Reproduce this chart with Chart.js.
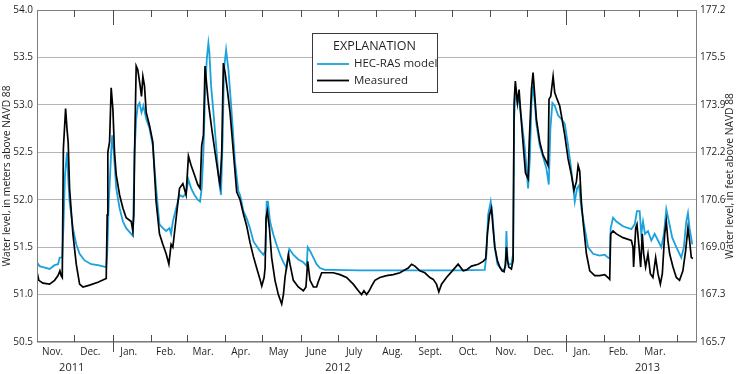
<!DOCTYPE html>
<html>
<head>
    <title>Water level, HEC-RAS model and measured</title>
    <script src="https://cdn.jsdelivr.net/npm/chart.js"></script>
    <style>
        body {
            margin: 0;
            background-color: #fff;
        }
        #levelChart {
            display: block;
        }
    </style>
</head>
<body>
    <canvas id="levelChart" width="737" height="374"></canvas>

    <script>
        // x values are days counted from Nov. 1, 2011
        var hecDays = [0, 2, 4.8, 10.2, 14.2, 17, 18.3, 20.4, 21.3, 22.6, 24.2, 25.2, 26.3, 29, 31.7, 34.4, 38.4, 43.8, 49.2, 55.9,
            56.7, 58, 59.9, 60.7, 62, 64, 66.7, 69.4, 72, 76.1, 77.4, 78.8, 80.1, 81.4, 82.8, 84.4, 86, 88.2, 90.9, 93.5,
            96.2, 98.9, 101.6, 104.3, 107, 108.3, 109.7, 112.4, 115.1, 117.8, 120.4, 122.3, 124.5, 127.2, 129.8, 131.7, 133, 134.4, 135.7, 137.1,
            138.4, 139.2, 140.6, 142.5, 145.1, 147, 148.6, 150, 151, 152.7, 154.6, 157.2, 159.9, 162.6, 164, 166.7, 169.4, 172, 174.8, 177.4,
            180.1, 182.8, 184.5, 185.5, 186.5, 188.2, 190.9, 193.6, 196.3, 199, 201.6, 203.8, 207, 211, 215.1, 217.8, 218.6, 220.5, 223.2, 225.8,
            228.5, 232.6, 240, 260, 280, 300, 320, 340, 361.6, 363, 364.3, 366.4, 367.8, 369.7, 371.8, 373.7, 376.4, 378.3, 379.1, 380,
            381, 383.1, 384.5, 385.3, 386.3, 388, 389.3, 391.2, 393.9, 396.6, 398, 399.3, 400.6, 402, 403.3, 406, 408.7, 411.4, 413.3, 414.6,
            416.2, 418.1, 420.8, 423.5, 426.2, 428.9, 431.6, 434.3, 436.1, 437.7, 439.6, 442.3, 445, 449, 454.4, 458.5, 461.1, 462.5, 463.3, 465.2,
            467.9, 473.2, 480, 482.7, 484.5, 486.7, 488, 489.4, 491, 493.4, 496.1, 498.8, 501.5, 504.2, 506.3, 508.2, 510.3, 513, 516.3, 520.3,
            522.4, 524.3, 525.7, 527, 529.2];
        var hecLevels = [51.34, 51.30, 51.29, 51.27, 51.31, 51.32, 51.39, 51.39, 51.70, 52.26, 52.50, 52.23, 51.98, 51.70, 51.53, 51.43, 51.36, 51.32, 51.31, 51.29,
            51.43, 51.98, 52.50, 52.68, 52.50, 52.12, 51.91, 51.77, 51.70, 51.64, 51.62, 52.50, 52.85, 52.99, 53.02, 52.92, 52.99, 52.85, 52.75, 52.57,
            52.12, 51.74, 51.70, 51.67, 51.70, 51.64, 51.77, 51.91, 52.05, 52.03, 52.07, 52.21, 52.12, 52.05, 52.00, 51.98, 52.12, 52.50, 53.09, 53.48,
            53.65, 53.55, 53.20, 52.92, 52.50, 52.19, 52.05, 52.68, 53.37, 53.58, 53.37, 52.92, 52.40, 52.09, 52.05, 51.88, 51.80, 51.70, 51.56, 51.51,
            51.46, 51.42, 51.46, 51.98, 51.98, 51.77, 51.63, 51.52, 51.42, 51.34, 51.28, 51.48, 51.42, 51.37, 51.34, 51.30, 51.50, 51.46, 51.39, 51.32,
            51.28, 51.26, 51.26, 51.255, 51.255, 51.255, 51.255, 51.255, 51.26, 51.43, 51.84, 51.98, 51.84, 51.50, 51.32, 51.29, 51.25, 51.29, 51.67, 51.36,
            51.32, 51.32, 51.43, 52.85, 53.13, 53.02, 53.06, 52.85, 52.55, 52.12, 52.43, 53.02, 53.20, 53.02, 52.80, 52.57, 52.45, 52.33, 52.16, 52.75,
            53.02, 52.99, 52.89, 52.85, 52.80, 52.57, 52.30, 51.98, 52.12, 52.15, 51.91, 51.70, 51.50, 51.43, 51.41, 51.42, 51.39, 51.38, 51.70, 51.81,
            51.77, 51.72, 51.69, 51.74, 51.88, 51.88, 51.64, 51.77, 51.64, 51.67, 51.57, 51.64, 51.57, 51.50, 51.64, 51.90, 51.77, 51.60, 51.50, 51.39,
            51.50, 51.77, 51.86, 51.70, 51.53];

        var measDays = [0, 1.5, 4.8, 10.2, 14.2, 17, 18.5, 19.5, 20.4, 21.3, 23.1, 24.2, 25.2, 26.3, 29, 31.7, 34.4, 37.1, 42.5, 49.2,
            55.9, 56.7, 57.2, 58.6, 59.9, 61.3, 62.6, 64, 66.7, 69.4, 72, 76.1, 77.4, 78.2, 78.8, 80.1, 81.4, 83.3, 84.4, 85.5,
            86.8, 88.2, 90.9, 93.5, 96.2, 98.9, 101.6, 104.3, 106.5, 108.3, 109.7, 112.4, 115.1, 117.8, 120.4, 122.3, 124.5, 127.2, 129.8, 131.7,
            133, 134.4, 135.7, 137.1, 138.4, 141.1, 143.8, 146.5, 147.8, 149.2, 150.5, 151.9, 153.7, 155.9, 158.6, 161.3, 164, 166.7, 169.4, 172,
            174.8, 177.4, 180.1, 181.5, 183.4, 184.2, 185, 186, 187.7, 189.5, 192.2, 194.9, 197.6, 199, 200.3, 203, 204.3, 207, 211, 215.1,
            217.2, 218.6, 220.5, 223.2, 225.8, 227, 229.9, 233.9, 239.3, 244.7, 250, 255.4, 259.5, 262.1, 264, 266.2, 268.3, 270.2, 272.9, 276.9,
            282.3, 287.7, 293.1, 295.8, 299.8, 302.5, 305.2, 309.2, 313.2, 317.3, 320, 322.6, 324.5, 326.7, 330.7, 336.1, 340.1, 344.2, 346.8, 350.9,
            356.3, 360.3, 362.4, 363.7, 365.4, 367, 368.3, 369.7, 371.8, 373.7, 375.6, 377.2, 378.3, 379.1, 380, 381, 383.1, 384.5, 385.3, 386.3,
            388, 389.3, 390.6, 392.5, 394.5, 396.6, 397.5, 399.3, 400.6, 402, 403.3, 406, 408.7, 411.4, 412.7, 413.5, 414.9, 416.8, 418.1, 420,
            422.1, 423.5, 426.2, 428.9, 431.6, 433.7, 435.6, 437, 438.3, 439.6, 441, 443.7, 446.4, 450.4, 454.4, 458.5, 461.1, 462.5, 463.3, 465.2,
            467.9, 473.2, 480, 481.3, 481.8, 483.5, 484.5, 486.2, 487.5, 488.8, 489.9, 491.5, 493.4, 495.3, 497.4, 499.6, 501.5, 503.4, 505, 506.9,
            508.2, 509.5, 510.9, 513.6, 516.3, 518.9, 521.6, 523.8, 525.7, 527, 528.4, 529.7];
        var measLevels = [51.24, 51.15, 51.12, 51.11, 51.15, 51.20, 51.25, 51.20, 51.18, 52.54, 52.96, 52.75, 52.60, 52.12, 51.64, 51.32, 51.11, 51.08, 51.10, 51.13,
            51.17, 51.84, 52.50, 52.61, 53.18, 52.95, 52.50, 52.26, 52.05, 51.91, 51.81, 51.77, 51.67, 51.84, 52.50, 53.41, 53.37, 53.20, 53.09, 53.30,
            53.20, 52.92, 52.78, 52.61, 51.98, 51.64, 51.53, 51.43, 51.32, 51.53, 51.50, 51.81, 52.12, 52.17, 52.05, 52.46, 52.36, 52.26, 52.16, 52.12,
            52.57, 52.68, 53.41, 53.20, 53.02, 52.75, 52.50, 52.26, 52.16, 52.50, 53.44, 53.34, 53.16, 52.92, 52.50, 52.08, 52.00, 51.85, 51.72, 51.55,
            51.40, 51.28, 51.16, 51.09, 51.18, 51.28, 51.81, 51.88, 51.70, 51.39, 51.15, 51.00, 50.90, 51.00, 51.18, 51.42, 51.32, 51.15, 51.08, 51.04,
            51.08, 51.35, 51.15, 51.08, 51.08, 51.13, 51.23, 51.23, 51.23, 51.21, 51.18, 51.11, 51.04, 51.00, 51.04, 51.00, 51.04, 51.09, 51.15, 51.18,
            51.20, 51.21, 51.23, 51.25, 51.28, 51.32, 51.30, 51.25, 51.23, 51.18, 51.16, 51.11, 51.03, 51.11, 51.18, 51.26, 51.32, 51.25, 51.26, 51.30,
            51.32, 51.35, 51.38, 51.64, 51.84, 51.91, 51.70, 51.50, 51.36, 51.29, 51.25, 51.24, 51.32, 51.50, 51.36, 51.29, 51.27, 51.36, 53.02, 53.25,
            53.02, 53.16, 52.92, 52.60, 52.28, 52.22, 52.60, 53.16, 53.34, 53.09, 52.85, 52.61, 52.47, 52.40, 52.36, 53.06, 53.09, 53.30, 53.13, 53.06,
            52.99, 52.89, 52.68, 52.43, 52.26, 52.10, 52.19, 52.36, 52.30, 51.98, 51.77, 51.43, 51.25, 51.20, 51.20, 51.21, 51.18, 51.16, 51.64, 51.67,
            51.64, 51.60, 51.57, 51.50, 51.29, 51.70, 51.74, 51.50, 51.29, 51.64, 51.43, 51.29, 51.43, 51.22, 51.18, 51.39, 51.22, 51.11, 51.22, 51.64,
            51.77, 51.57, 51.43, 51.29, 51.18, 51.15, 51.25, 51.46, 51.70, 51.57, 51.39, 51.38];

        var monthStarts = [0, 30, 61, 92, 121, 152, 182, 213, 243, 274, 305, 335, 366, 396, 427, 458, 486, 517, 533];
        var monthLabels = ['Nov.', 'Dec.', 'Jan.', 'Feb.', 'Mar.', 'Apr.', 'May', 'June', 'July', 'Aug.', 'Sept.', 'Oct.',
            'Nov.', 'Dec.', 'Jan.', 'Feb.', 'Mar.'];
        var yearStarts = [61, 427];
        var yearLabels = ['2011', '2012', '2013'];
        var yearLabelDays = [28, 243, 493];
        var feetLabels = ['165.7', '167.3', '169.0', '170.6', '172.2', '173.9', '175.5', '177.2'];

        var seriesNames = ['HEC-RAS model', 'Measured'];
        var seriesColors = ['#1ba1dd', '#000000'];
        var meterTitle = 'Water level, in meters above NAVD 88';
        var feetTitle = 'Water level, in feet above NAVD 88';

        var fontFamily = '"Open Sans", sans-serif';
        var textColor = '#231f20';

        function toPoints(xs, ys) {
            return xs.map(function (d, i) { return { x: d, y: ys[i] }; });
        }

        // month labels sit between the month boundaries
        var monthMids = monthLabels.map(function (m, i) {
            return (monthStarts[i] + monthStarts[i + 1]) / 2;
        });

        var frameAndLegend = {
            id: 'frameAndLegend',
            afterDraw: function (chart) {
                var ctx = chart.ctx;
                var a = chart.chartArea;
                var xs = chart.scales.x;
                ctx.save();

                // box round the plot
                ctx.strokeStyle = '#7d7d7d';
                ctx.lineWidth = 1;
                ctx.strokeRect(a.left + 0.5, a.top + 0.5, a.right - a.left - 1, a.bottom - a.top - 1);

                // inward month ticks, longer at new year
                ctx.strokeStyle = '#4d4d4d';
                monthStarts.forEach(function (d) {
                    if (d <= 0 || d >= xs.max) return;
                    var px = Math.round(xs.getPixelForValue(d)) + 0.5;
                    var newYear = yearStarts.indexOf(d) >= 0;
                    ctx.beginPath();
                    ctx.moveTo(px, a.top);
                    ctx.lineTo(px, a.top + (newYear ? 15 : 7));
                    ctx.moveTo(px, a.bottom - 7);
                    ctx.lineTo(px, a.bottom + (newYear ? 10 : 0));
                    ctx.stroke();
                });

                // right axis title, read bottom to top like the left one
                ctx.fillStyle = textColor;
                ctx.font = '10.3px ' + fontFamily;
                ctx.textAlign = 'center';
                ctx.textBaseline = 'middle';
                ctx.save();
                ctx.translate(chart.width - 7, (a.top + a.bottom) / 2);
                ctx.rotate(-Math.PI / 2);
                ctx.fillText(feetTitle, 0, 0);
                ctx.restore();

                // explanation box
                var bx = 312, by = 33, bw = 125, bh = 59;
                ctx.fillStyle = '#fff';
                ctx.fillRect(bx, by, bw, bh);
                ctx.strokeStyle = '#3a3a3a';
                ctx.lineWidth = 1;
                ctx.strokeRect(bx + 0.5, by + 0.5, bw, bh);
                ctx.fillStyle = textColor;
                ctx.textAlign = 'center';
                ctx.font = '12.5px ' + fontFamily;
                ctx.fillText('EXPLANATION', bx + bw / 2, by + 13);
                ctx.textAlign = 'left';
                ctx.font = '11.5px ' + fontFamily;
                chart.data.datasets.forEach(function (ds, i) {
                    var ly = by + 31 + i * 16.5;
                    ctx.strokeStyle = ds.borderColor;
                    ctx.lineWidth = 1.8;
                    ctx.beginPath();
                    ctx.moveTo(bx + 5, ly);
                    ctx.lineTo(bx + 37, ly);
                    ctx.stroke();
                    ctx.fillText(ds.label, bx + 42, ly);
                });
                ctx.restore();
            }
        };

        var ctx = document.getElementById('levelChart').getContext('2d');
        var levelChart = new Chart(ctx, {
            type: 'line',
            data: {
                datasets: [{
                    label: seriesNames[0],
                    data: toPoints(hecDays, hecLevels),
                    borderColor: seriesColors[0],
                    borderWidth: 1.8,
                    pointRadius: 0,
                    tension: 0,
                    order: 2
                }, {
                    label: seriesNames[1],
                    data: toPoints(measDays, measLevels),
                    borderColor: seriesColors[1],
                    borderWidth: 1.7,
                    pointRadius: 0,
                    tension: 0,
                    order: 1
                }]
            },
            options: {
                responsive: false,
                animation: false,
                devicePixelRatio: 1,
                layout: { padding: { top: 6, left: 0, right: 0, bottom: 0 } },
                plugins: {
                    legend: { display: false },
                    tooltip: { enabled: false }
                },
                scales: {
                    x: {
                        type: 'linear',
                        position: 'bottom',
                        min: 0,
                        max: 533,
                        afterBuildTicks: function (s) {
                            s.ticks = monthMids.map(function (v) { return { value: v }; });
                        },
                        afterFit: function (s) { s.height = 18; },
                        ticks: {
                            autoSkip: false,
                            maxRotation: 0,
                            padding: 4,
                            labelOffset: -3,
                            color: textColor,
                            font: { family: fontFamily, size: 10 },
                            callback: function (v, i) { return monthLabels[i]; }
                        },
                        grid: { display: false, drawTicks: false },
                        border: { display: false }
                    },
                    xYear: {
                        type: 'linear',
                        position: 'bottom',
                        min: 0,
                        max: 533,
                        afterBuildTicks: function (s) {
                            s.ticks = yearLabelDays.map(function (v) { return { value: v }; });
                        },
                        afterFit: function (s) { s.height = 14; },
                        ticks: {
                            autoSkip: false,
                            maxRotation: 0,
                            padding: 1,
                            color: textColor,
                            font: { family: fontFamily, size: 11 },
                            callback: function (v, i) { return yearLabels[i]; }
                        },
                        grid: { display: false, drawTicks: false },
                        border: { display: false }
                    },
                    y: {
                        position: 'left',
                        min: 50.5,
                        max: 54,
                        afterFit: function (s) { s.width = 37; },
                        ticks: {
                            stepSize: 0.5,
                            padding: 4,
                            color: textColor,
                            font: { family: fontFamily, size: 10 },
                            callback: function (v) { return v.toFixed(1); }
                        },
                        grid: { color: '#b4b4b4', lineWidth: 1, drawTicks: false },
                        border: { display: false },
                        title: {
                            display: true,
                            text: meterTitle,
                            color: textColor,
                            padding: 1,
                            font: { family: fontFamily, size: 10.3 }
                        }
                    },
                    y2: {
                        position: 'right',
                        min: 50.5,
                        max: 54,
                        afterFit: function (s) { s.width = 40; },
                        ticks: {
                            stepSize: 0.5,
                            padding: 3,
                            color: textColor,
                            font: { family: fontFamily, size: 10 },
                            callback: function (v, i) { return feetLabels[i]; }
                        },
                        grid: { drawOnChartArea: false, drawTicks: false },
                        border: { display: false }
                    }
                }
            },
            plugins: [frameAndLegend]
        });
    </script>
</body>
</html>
